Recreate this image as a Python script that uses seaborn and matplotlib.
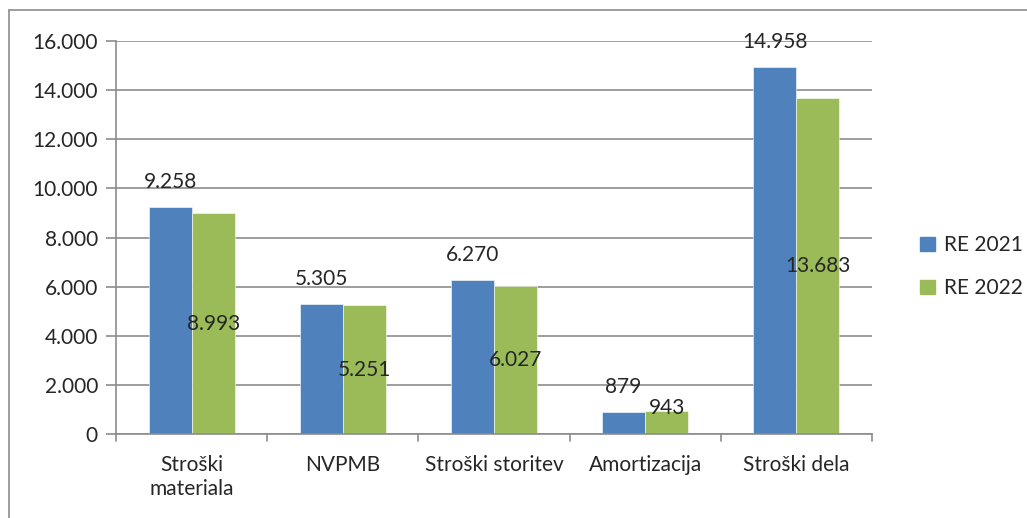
import pandas as pd
import seaborn as sns
import matplotlib.pyplot as plt
from matplotlib.lines import Line2D

# Data
categories = ['Stroški\nmateriala', 'NVPMB', 'Stroški storitev', 'Amortizacija', 'Stroški dela']
re_2021 = [9258, 5305, 6270, 879, 14958]
re_2022 = [8993, 5251, 6027, 943, 13683]
series = ['RE 2021', 'RE 2022']

df = pd.DataFrame({
    'Kategorija': categories * 2,
    'Vrednost': re_2021 + re_2022,
    'Serija': [series[0]] * len(categories) + [series[1]] * len(categories),
})

sns.set_style('white')
plt.rcParams['font.family'] = ['Lato', 'DejaVu Sans']

fig = plt.figure(figsize=(10.27, 5.18), dpi=100)
ax = fig.add_axes([0.113, 0.162, 0.736, 0.759])

sns.barplot(data=df, x='Kategorija', y='Vrednost', hue='Serija',
            palette=['#4F81BD', '#9BBB59'], saturation=1, width=0.57, ax=ax,
            edgecolor='white', linewidth=0.4, errorbar=None)

ax.set_ylim(0, 16000)
ax.set_xlim(-0.5, len(categories) - 0.5)
ax.set_yticks(range(0, 16001, 2000))
ax.set_yticklabels([f'{v:,}'.replace(',', '.') for v in range(0, 16001, 2000)], fontsize=15)
ax.yaxis.grid(True, color='#8C8C8C', linewidth=1.2)
ax.set_axisbelow(True)
ax.set_xlabel('')
ax.set_ylabel('')
ax.tick_params(axis='x', labelsize=15, length=0, pad=15)
for lbl in ax.get_xticklabels():
    lbl.set_linespacing(1.25)
ax.tick_params(axis='y', length=7, color='#8C8C8C', width=1.2, left=True, pad=6)

for s in ['top', 'right']:
    ax.spines[s].set_visible(False)
for s in ['left', 'bottom']:
    ax.spines[s].set_color('#8C8C8C')
    ax.spines[s].set_linewidth(1.2)

# category separators ticks below x axis
for b in range(len(categories) + 1):
    ax.plot([b - 0.5, b - 0.5], [0, -300], color='#8C8C8C', lw=1.2, clip_on=False)

# value labels
fmt = lambda v: f'{v:,}'.replace(',', '.')
c0, c1 = ax.containers[0], ax.containers[1]
for bar, v in zip(c0, re_2021):
    ax.annotate(fmt(v), (bar.get_x() + bar.get_width() / 2, v), xytext=(0, 18),
                textcoords='offset points', ha='center', va='center', fontsize=15)
for bar, v in zip(c1, re_2022):
    ax.text(bar.get_x() + bar.get_width() / 2, max(v / 2, 1060), fmt(v),
            ha='center', va='center', fontsize=15)

handles = [plt.Rectangle((0, 0), 1, 1, color=c) for c in ['#4F81BD', '#9BBB59']]
fig.legend(handles, series, loc='center left', bbox_to_anchor=(0.878, 0.485),
           frameon=False, fontsize=15, handlelength=0.7, handleheight=0.7,
           handletextpad=0.45, labelspacing=1.1)
ax.get_legend().remove()

# outer chart border (top and left visible)
fig.add_artist(Line2D([0.009, 1.0], [0.981, 0.981], color='#8C8C8C', lw=1.2))
fig.add_artist(Line2D([0.009, 0.009], [0.0, 0.981], color='#8C8C8C', lw=1.2))

fig.savefig('out.png', dpi=100)
